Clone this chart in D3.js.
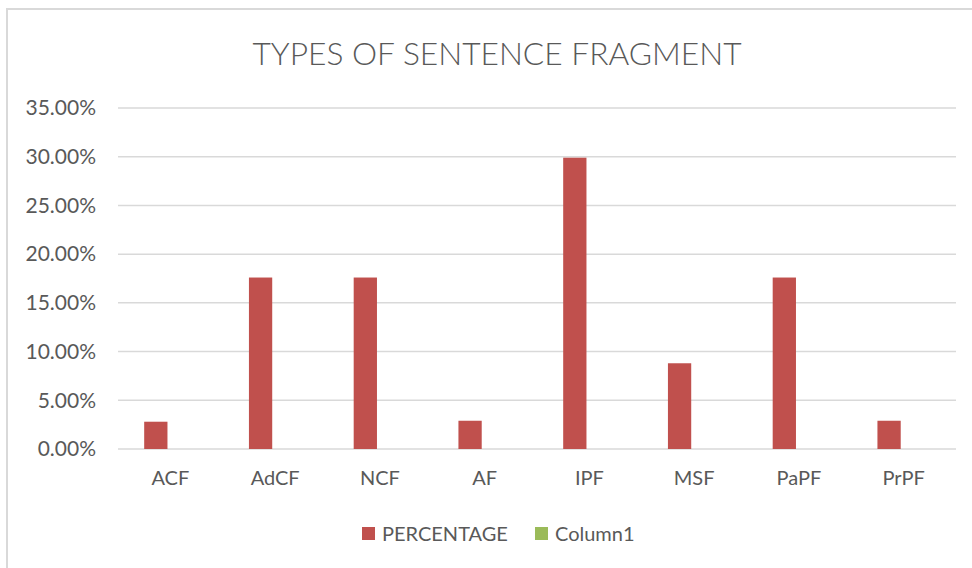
<!DOCTYPE html>
<html>
<head>
<meta charset="utf-8">
<script src="https://cdn.jsdelivr.net/npm/d3@7"></script>
<style>
  html, body { margin: 0; padding: 0; background: #fff; }
  svg { display: block; font-family: Lato, "Open Sans", sans-serif; }
</style>
</head>
<body>
<svg id="chart" width="972" height="568"></svg>
<script>
const title = "TYPES OF SENTENCE FRAGMENT";
const categories = ["ACF", "AdCF", "NCF", "AF", "IPF", "MSF", "PaPF", "PrPF"];
const seriesNames = ["PERCENTAGE", "Column1"];
const percentage = [2.8, 17.6, 17.6, 2.9, 29.9, 8.8, 17.6, 2.9];
const column1 = [null, null, null, null, null, null, null, null];
const yTicks = [0, 5, 10, 15, 20, 25, 30, 35];
const colors = ["#C0504D", "#9BBB59"];

const svg = d3.select("#chart");
const W = 972, H = 568;
const margin = { left: 118, right: 16, top: 108, bottom: 119 };
const plotW = W - margin.left - margin.right;
const plotH = H - margin.top - margin.bottom;

// chart border (cropped on right and bottom)
svg.append("rect")
  .attr("x", 7).attr("y", 9)
  .attr("width", 990).attr("height", 580)
  .attr("fill", "#fff")
  .attr("stroke", "#D9D9D9").attr("stroke-width", 2);

// title
svg.append("text")
  .attr("x", 497).attr("y", 65)
  .attr("text-anchor", "middle")
  .attr("font-size", 31)
  .attr("font-weight", 300)
  .attr("fill", "#595959")
  .attr("textLength", 489)
  .attr("lengthAdjust", "spacingAndGlyphs")
  .text(title);

const g = svg.append("g").attr("transform", `translate(${margin.left},${margin.top})`);

const y = d3.scaleLinear().domain([0, 35]).range([plotH, 0]);
const x0 = d3.scaleBand().domain(categories).range([0, plotW]).padding(0);
const x1 = d3.scaleBand().domain(seriesNames).range([0, x0.bandwidth()])
  .paddingInner(0).paddingOuter(1.25).align(0.45);

// gridlines
g.append("g")
  .selectAll("line")
  .data(yTicks)
  .join("line")
  .attr("x1", 0).attr("x2", plotW)
  .attr("y1", d => y(d)).attr("y2", d => y(d))
  .attr("stroke", "#D9D9D9").attr("stroke-width", 1.5);

// y axis labels
const yAxis = d3.axisLeft(y).tickValues(yTicks).tickSize(0).tickPadding(22)
  .tickFormat(d => d.toFixed(2) + "%");
const ya = g.append("g").call(yAxis);
ya.select(".domain").remove();
ya.selectAll("text")
  .attr("font-family", "Lato, 'Open Sans', sans-serif")
  .attr("font-size", 21).attr("fill", "#595959");

// x axis labels
const xAxis = d3.axisBottom(x0).tickSize(0).tickPadding(22);
const xa = g.append("g").attr("transform", `translate(0,${plotH})`).call(xAxis);
xa.select(".domain").remove();
xa.selectAll("text")
  .attr("font-family", "Lato, 'Open Sans', sans-serif")
  .attr("font-size", 20).attr("fill", "#595959");

// bars
const rows = categories.map((c, i) => ({ cat: c, values: [
  { s: seriesNames[0], v: percentage[i] },
  { s: seriesNames[1], v: column1[i] }
]}));

g.append("g")
  .selectAll("g")
  .data(rows)
  .join("g")
  .attr("transform", d => `translate(${x0(d.cat)},0)`)
  .selectAll("rect")
  .data(d => d.values.filter(e => e.v != null))
  .join("rect")
  .attr("x", d => x1(d.s))
  .attr("width", x1.bandwidth())
  .attr("y", d => y(d.v))
  .attr("height", d => y(0) - y(d.v))
  .attr("fill", (d) => colors[seriesNames.indexOf(d.s)]);

// legend
const legend = svg.append("g").attr("transform", "translate(362,527)");
const legendItems = [
  { name: seriesNames[0], color: colors[0], x: 0 },
  { name: seriesNames[1], color: colors[1], x: 173 }
];
const li = legend.selectAll("g").data(legendItems).join("g")
  .attr("transform", d => `translate(${d.x},0)`);
li.append("rect").attr("width", 13).attr("height", 13).attr("fill", d => d.color);
li.append("text").attr("x", 20).attr("y", 14)
  .attr("font-size", 20).attr("fill", "#595959")
  .text(d => d.name);
</script>
</body>
</html>
